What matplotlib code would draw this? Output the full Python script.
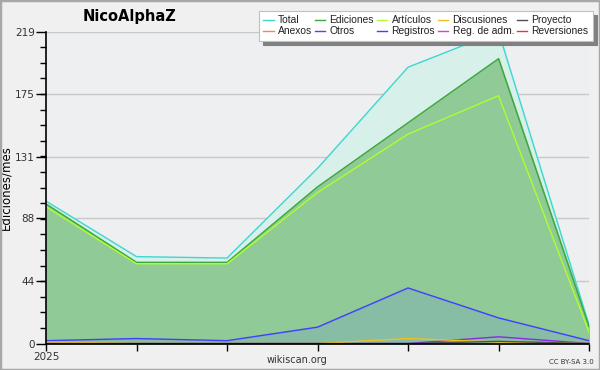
import matplotlib
matplotlib.use("Agg")
import matplotlib.pyplot as plt
from matplotlib.patches import Rectangle
from matplotlib.lines import Line2D
import numpy as np

months = ["2025", "", "", "", "", "", ""]
total = [100, 61, 60, 123, 194, 219, 13]
ediciones = [98, 57, 57, 110, 155, 200, 12]
articulos = [96, 56, 56, 106, 147, 174, 8]
registros = [2, 3.5, 2, 11.5, 39, 18, 2]
discusiones = [1, 0, 0, 0, 3.5, 1, 0]
otros = [0, 0, 0, 0, 0, 4.7, 0]
proyecto = [0, 0, 0, 0, 0, 1.5, 0]
anexos = [0, 0, 0, 0, 0, 0, 0]
regadm = [0, 0, 0, 0, 0, 0, 0]
reversiones = [0, 0, 0, 0, 0, 0, 0]
yticks = [0, 44, 88, 131, 175, 219]

x = np.arange(len(months))

fig = plt.figure(figsize=(6, 3.7), dpi=100, facecolor="#f0f0f0")
fig.patches.append(Rectangle((0, 0), 1, 1, transform=fig.transFigure, fill=False,
                             edgecolor="#a8a8a8", linewidth=2.5))
ax = fig.add_axes([0.0767, 0.0716, 0.905, 0.843])
ax.set_facecolor("#eeeff1")

ax.fill_between(x, total, color="#d8f0ea", zorder=1)
ax.fill_between(x, ediciones, color="#90ca96", zorder=2)
ax.fill_between(x, registros, color="#5a70ff", alpha=0.15, zorder=3)

series = [
    ("Total", total, "#3fd6d0"),
    ("Anexos", anexos, "#ff7f50"),
    ("Ediciones", ediciones, "#3aa83a"),
    ("Otros", otros, "#8a2be2"),
    ("Artículos", articulos, "#adff2f"),
    ("Registros", registros, "#4040ff"),
    ("Discusiones", discusiones, "#f0c020"),
    ("Reg. de adm.", regadm, "#cc44dd"),
    ("Proyecto", proyecto, "#505050"),
    ("Reversiones", reversiones, "#ee3333"),
]
for name, vals, col in series:
    if max(vals) > 0:
        ax.plot(x, vals, color=col, lw=1.0, zorder=4)

leg_handles = [Line2D([], [], color=c, lw=1) for _, _, c in series]
leg = fig.legend(leg_handles, [s[0] for s in series], ncol=5, loc="upper right",
                 bbox_to_anchor=(0.988, 0.97),
                 prop={"family": "Liberation Sans", "size": 7.4},
                 frameon=True, fancybox=False,
                 shadow={"color": "#808080", "alpha": 1.0, "ox": 3, "oy": -3},
                 handlelength=1.0, handletextpad=0.4, columnspacing=0.3,
                 labelspacing=0.12, borderpad=0.4, borderaxespad=0)
leg.get_frame().set_edgecolor("#c0c0c0")
leg.get_frame().set_linewidth(0.8)
for t in leg.get_texts():
    t.set_color("#222222")

ax.set_xlim(0, 6)
ax.set_ylim(0, 219)
ax.set_xticks(x)
ax.set_xticklabels(months, fontsize=7.5)
ax.set_yticks(yticks)
ax.set_yticklabels([str(v) for v in yticks], fontsize=7.5)
ax.set_yticks([v for v in np.linspace(0, 219, 21)], minor=True)
ax.tick_params(axis="y", which="major", length=7, width=1, pad=1, colors="black", labelcolor="#333333")
ax.tick_params(axis="y", which="minor", length=4, width=1)
ax.tick_params(axis="x", which="major", length=5, width=1, pad=1, labelcolor="#333333")
ax.grid(axis="y", which="major", color="#c8c8c8", lw=1, zorder=0)
ax.set_axisbelow(True)
for s in ["top", "right"]:
    ax.spines[s].set_visible(False)
for s in ["left", "bottom"]:
    ax.spines[s].set_linewidth(1.2)
    ax.spines[s].set_zorder(6)

ax.set_ylabel("Ediciones/mes", fontsize=8.5)
ax.yaxis.set_label_coords(-0.062, 0.5)
fig.text(0.215, 0.955, "NicoAlphaZ", fontsize=10.5, fontweight="bold", ha="center", va="center")
fig.text(0.495, 0.027, "wikiscan.org", fontsize=7, ha="center", va="center", color="#333333")
fig.text(0.952, 0.022, "CC BY-SA 3.0", fontsize=5, ha="center", va="center", color="#333333")

fig.savefig("out.png", dpi=100, facecolor=fig.get_facecolor())
